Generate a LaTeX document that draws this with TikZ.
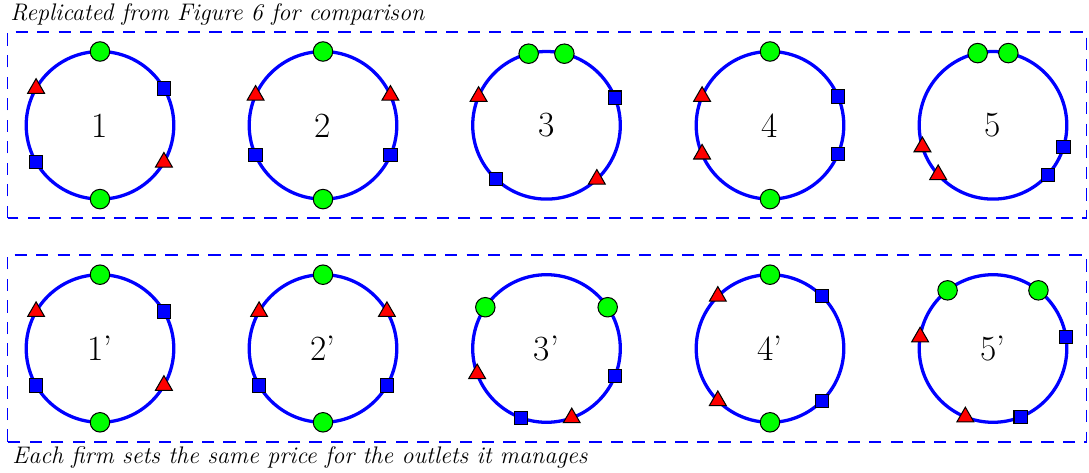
\documentclass[tikz,border=0pt]{standalone}
\usetikzlibrary{shapes.geometric}

\begin{document}
\begin{tikzpicture}[x=0.4878pt, y=0.4878pt,
                    ring/.style={circle, draw=blue, line width=1.6pt, minimum size=72pt,
                                 inner sep=0pt, outer sep=0pt, font=\LARGE},
                    mk/.style={draw=black, line width=0.5pt, inner sep=0pt},
                    cmark/.style={mk, circle, fill=green, minimum size=9.5pt},
                    smark/.style={mk, rectangle, fill=blue, minimum size=6.5pt},
                    tmark/.style={mk, regular polygon, regular polygon sides=3, fill=red, minimum size=9.5pt},
                    note/.style={anchor=base west, inner sep=0pt, font=\fontsize{11.7pt}{14pt}\selectfont\itshape},
                    panel/.style={draw=blue, line width=0.8pt, dash pattern=on 6pt off 4.5pt}]
  \useasboundingbox (0,0) rectangle (1089,472);
  \draw[panel] (7.5,254) rectangle (1086.5,439.7);
  \draw[panel] (7.5,30.3) rectangle (1086.5,217);
  \node[note] (title) at (10,451.5) {Replicated from Figure 6 for comparison};
  \node[note] (caption) at (12,8.7) {Each firm sets the same price for the outlets it manages};
  % top row
  \node[ring] (r1) at (100,346.7) {1};
  \foreach \a in {90,270} \node[cmark] (r1c\a) at (r1.\a) {};
  \foreach \a in {30,210} \node[smark] (r1s\a) at (r1.\a) {};
  \foreach \a in {150,330} \node[tmark] (r1t\a) at (r1.\a) {};
  \node[ring] (r2) at (323,346.7) {2};
  \foreach \a in {90,270} \node[cmark] (r2c\a) at (r2.\a) {};
  \foreach \a in {204,336} \node[smark] (r2s\a) at (r2.\a) {};
  \foreach \a in {156,24} \node[tmark] (r2t\a) at (r2.\a) {};
  \node[ring] (r3) at (546.5,346.7) {3};
  \foreach \a in {76,104} \node[cmark] (r3c\a) at (r3.\a) {};
  \foreach \a in {22,227} \node[smark] (r3s\a) at (r3.\a) {};
  \foreach \a in {157,313} \node[tmark] (r3t\a) at (r3.\a) {};
  \node[ring] (r4) at (770,346.7) {4};
  \foreach \a in {90,270} \node[cmark] (r4c\a) at (r4.\a) {};
  \foreach \a in {23,337} \node[smark] (r4s\a) at (r4.\a) {};
  \foreach \a in {157,203} \node[tmark] (r4t\a) at (r4.\a) {};
  \node[ring] (r5) at (993,346.7) {5};
  \foreach \a in {78,102} \node[cmark] (r5c\a) at (r5.\a) {};
  \foreach \a in {318,343} \node[smark] (r5s\a) at (r5.\a) {};
  \foreach \a in {197,222} \node[tmark] (r5t\a) at (r5.\a) {};
  % bottom row
  \node[ring] (q1) at (100,123.5) {1'};
  \foreach \a in {90,270} \node[cmark] (q1c\a) at (q1.\a) {};
  \foreach \a in {30,210} \node[smark] (q1s\a) at (q1.\a) {};
  \foreach \a in {150,330} \node[tmark] (q1t\a) at (q1.\a) {};
  \node[ring] (q2) at (323,123.5) {2'};
  \foreach \a in {90,270} \node[cmark] (q2c\a) at (q2.\a) {};
  \foreach \a in {210,330} \node[smark] (q2s\a) at (q2.\a) {};
  \foreach \a in {150,30} \node[tmark] (q2t\a) at (q2.\a) {};
  \node[ring] (q3) at (546.5,123.5) {3'};
  \foreach \a in {34,146} \node[cmark] (q3c\a) at (q3.\a) {};
  \foreach \a in {250,338} \node[smark] (q3s\a) at (q3.\a) {};
  \foreach \a in {200,290} \node[tmark] (q3t\a) at (q3.\a) {};
  \node[ring] (q4) at (770,123.5) {4'};
  \foreach \a in {90,270} \node[cmark] (q4c\a) at (q4.\a) {};
  \foreach \a in {45,315} \node[smark] (q4s\a) at (q4.\a) {};
  \foreach \a in {135,225} \node[tmark] (q4t\a) at (q4.\a) {};
  \node[ring] (q5) at (993,123.5) {5'};
  \foreach \a in {52,128} \node[cmark] (q5c\a) at (q5.\a) {};
  \foreach \a in {9,292} \node[smark] (q5s\a) at (q5.\a) {};
  \foreach \a in {171,248} \node[tmark] (q5t\a) at (q5.\a) {};
\end{tikzpicture}
\end{document}
